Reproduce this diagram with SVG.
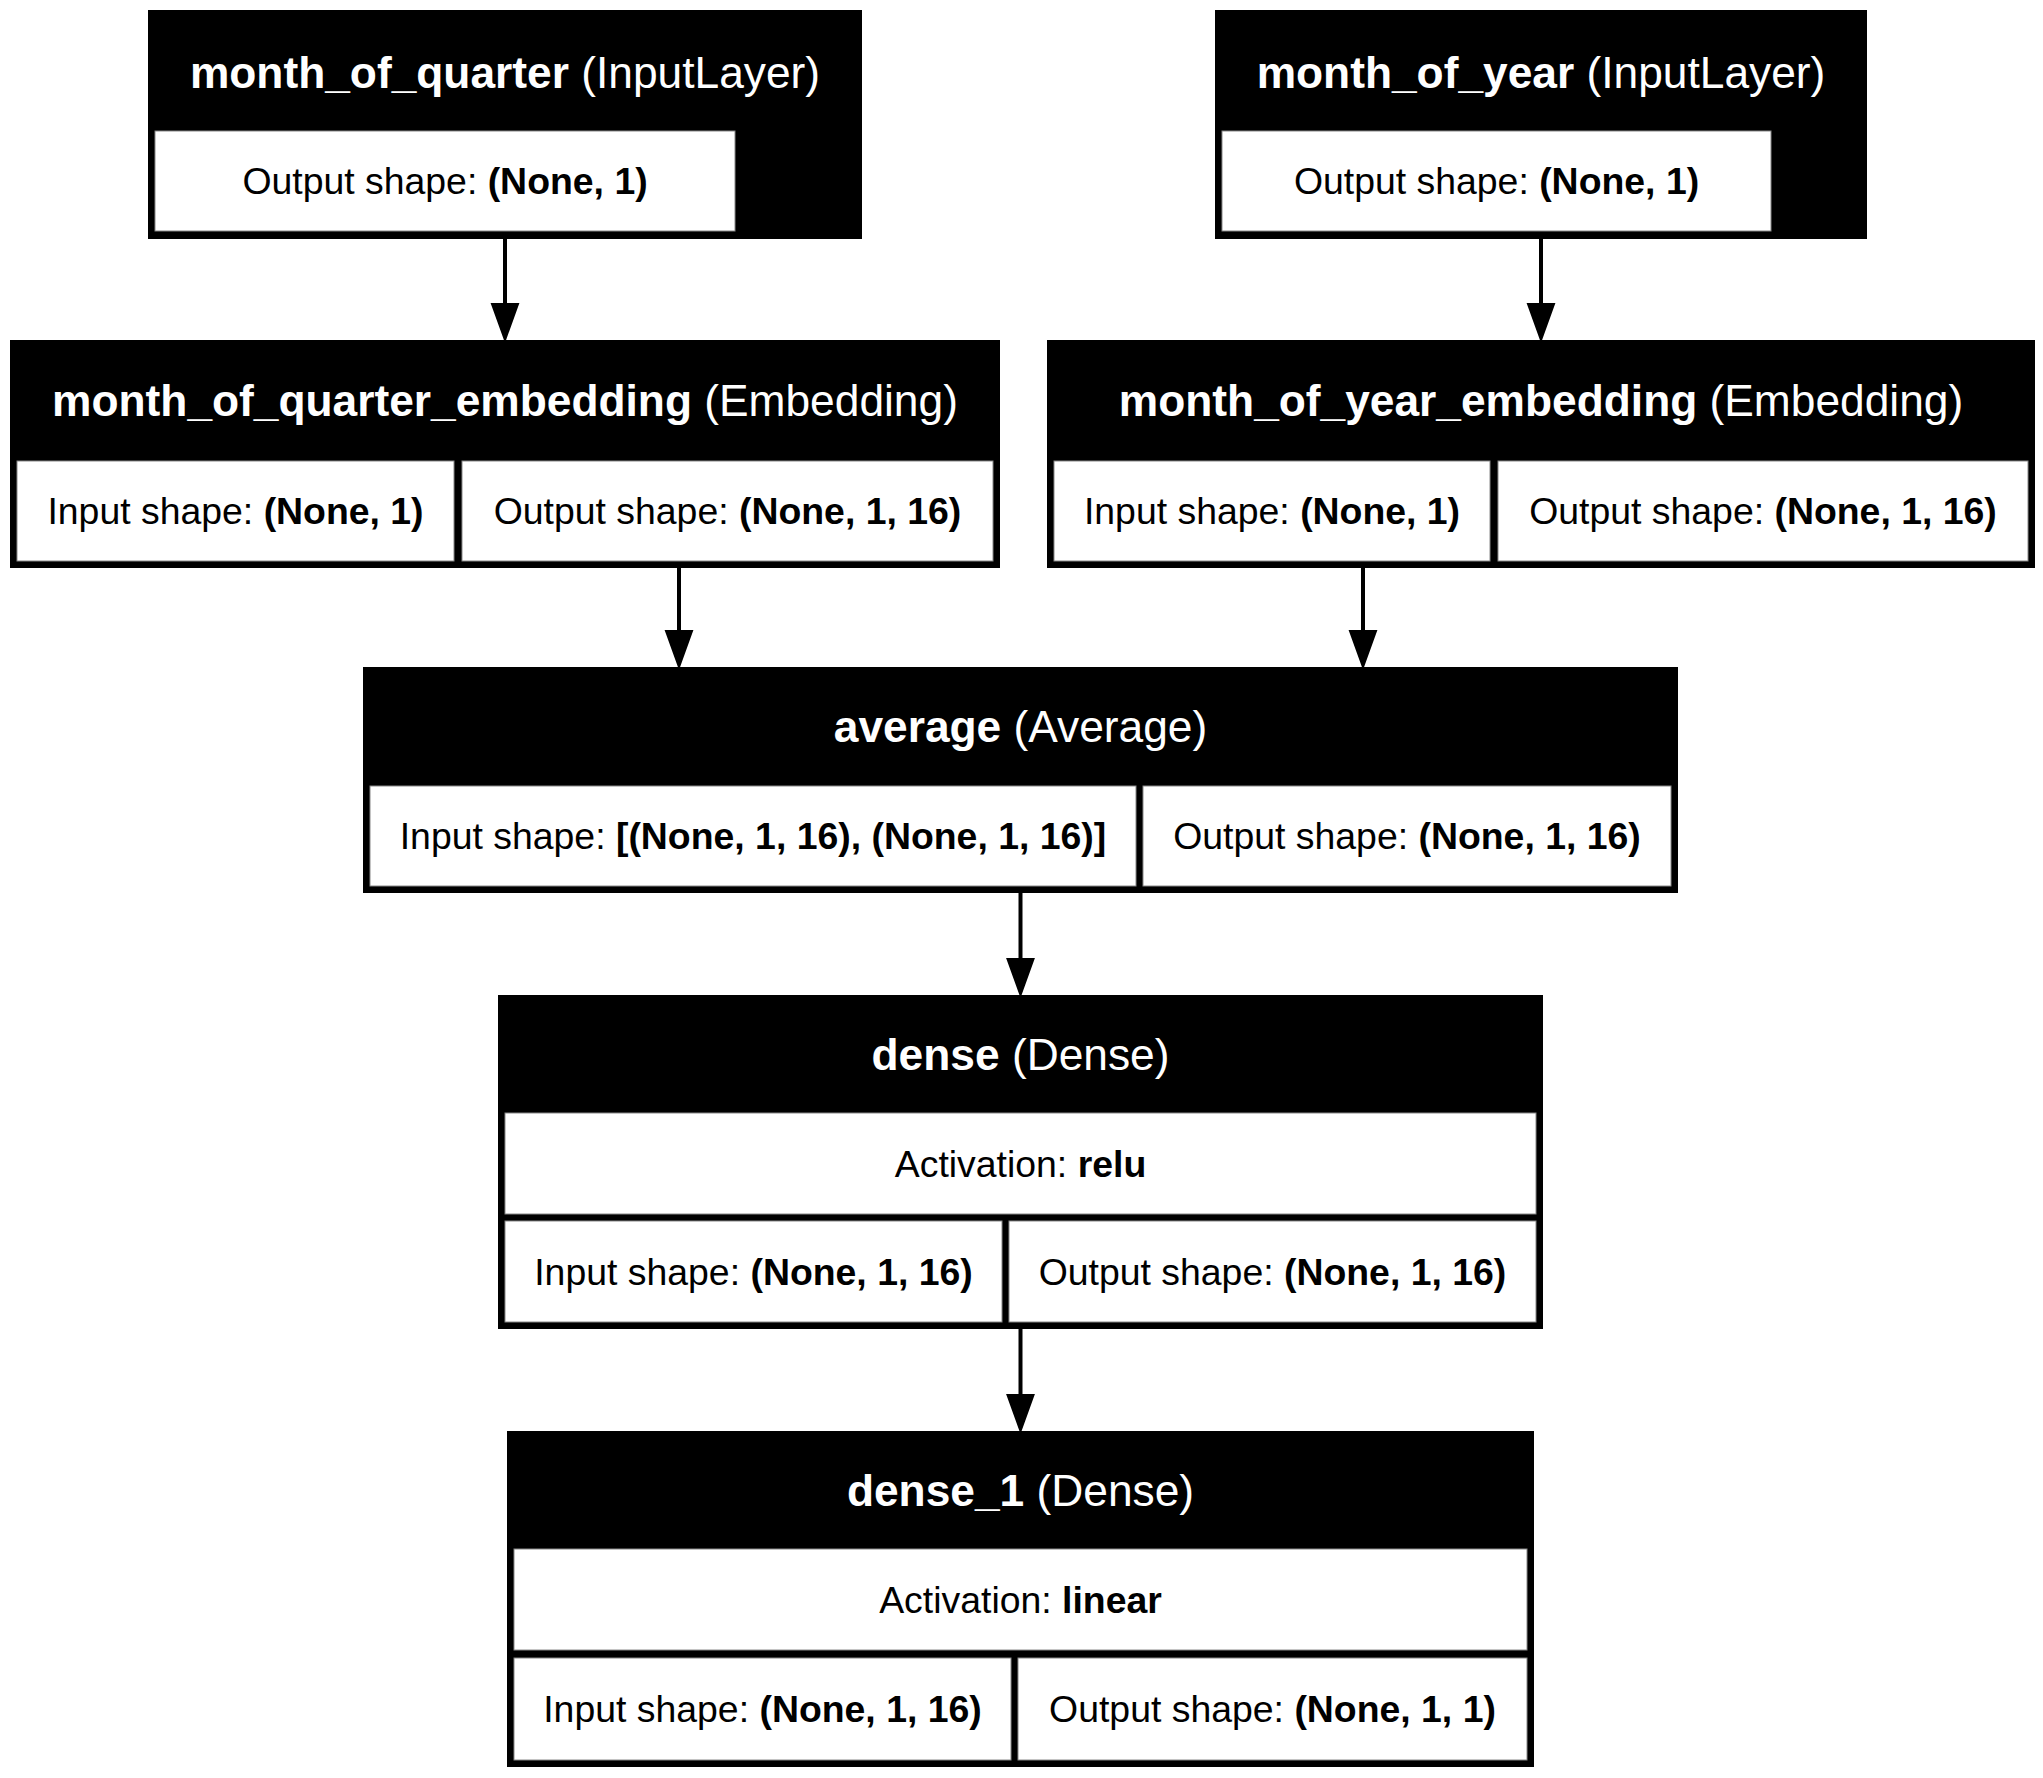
<svg xmlns="http://www.w3.org/2000/svg" width="2043" height="1778" viewBox="0 0 2043 1778">
<style>
text{font-family:"Liberation Sans",Arial,Helvetica,sans-serif;text-anchor:middle}
.frame{fill:#000}
.cell{fill:#fff;stroke:#888;stroke-width:1}
.title{font-size:44.3px;fill:#fff}
.lbl{font-size:37.4px;fill:#000}
.b{font-weight:bold}
.edge{stroke:#000;stroke-width:4;fill:none}
.head{fill:#000;stroke:#000;stroke-width:2}
</style>
<rect width="2043" height="1778" fill="#fff"/>
<g id="connectors">
<line class="edge" x1="505" y1="239" x2="505" y2="304"/>
<polygon class="head" points="492,304 518,304 505,340"/>
<line class="edge" x1="1541" y1="239" x2="1541" y2="304"/>
<polygon class="head" points="1528,304 1554,304 1541,340"/>
<line class="edge" x1="679" y1="568" x2="679" y2="631"/>
<polygon class="head" points="666,631 692,631 679,667"/>
<line class="edge" x1="1363" y1="568" x2="1363" y2="631"/>
<polygon class="head" points="1350,631 1376,631 1363,667"/>
<line class="edge" x1="1020.5" y1="893" x2="1020.5" y2="959"/>
<polygon class="head" points="1007.5,959 1033.5,959 1020.5,995"/>
<line class="edge" x1="1020.5" y1="1329" x2="1020.5" y2="1395"/>
<polygon class="head" points="1007.5,1395 1033.5,1395 1020.5,1431"/>
</g>
<g id="month_of_quarter">
<rect class="frame" x="148" y="10" width="714" height="229"/>
<rect class="cell" x="155" y="131" width="580" height="100"/>
<text class="title" x="505" y="88"><tspan class="b">month_of_quarter</tspan> (InputLayer)</text>
<text class="lbl" x="445" y="194">Output shape: <tspan class="b">(None, 1)</tspan></text>
</g>
<g id="month_of_year">
<rect class="frame" x="1215" y="10" width="652" height="229"/>
<rect class="cell" x="1222" y="131" width="549" height="100"/>
<text class="title" x="1541" y="88"><tspan class="b">month_of_year</tspan> (InputLayer)</text>
<text class="lbl" x="1496.5" y="194">Output shape: <tspan class="b">(None, 1)</tspan></text>
</g>
<g id="month_of_quarter_embedding">
<rect class="frame" x="10" y="340" width="990" height="228"/>
<rect class="cell" x="17" y="461" width="437" height="100"/>
<rect class="cell" x="462" y="461" width="531" height="100"/>
<text class="title" x="505" y="416"><tspan class="b">month_of_quarter_embedding</tspan> (Embedding)</text>
<text class="lbl" x="235.5" y="524">Input shape: <tspan class="b">(None, 1)</tspan></text>
<text class="lbl" x="727.5" y="524">Output shape: <tspan class="b">(None, 1, 16)</tspan></text>
</g>
<g id="month_of_year_embedding">
<rect class="frame" x="1047" y="340" width="988" height="228"/>
<rect class="cell" x="1054" y="461" width="436" height="100"/>
<rect class="cell" x="1498" y="461" width="530" height="100"/>
<text class="title" x="1541" y="416"><tspan class="b">month_of_year_embedding</tspan> (Embedding)</text>
<text class="lbl" x="1272" y="524">Input shape: <tspan class="b">(None, 1)</tspan></text>
<text class="lbl" x="1763" y="524">Output shape: <tspan class="b">(None, 1, 16)</tspan></text>
</g>
<g id="average">
<rect class="frame" x="363" y="667" width="1315" height="226"/>
<rect class="cell" x="370" y="786" width="766" height="100"/>
<rect class="cell" x="1143" y="786" width="528" height="100"/>
<text class="title" x="1020.5" y="742"><tspan class="b">average</tspan> (Average)</text>
<text class="lbl" x="753" y="849">Input shape: <tspan class="b">[(None, 1, 16), (None, 1, 16)]</tspan></text>
<text class="lbl" x="1407" y="849">Output shape: <tspan class="b">(None, 1, 16)</tspan></text>
</g>
<g id="dense">
<rect class="frame" x="498" y="995" width="1045" height="334"/>
<rect class="cell" x="505" y="1113" width="1031" height="101"/>
<rect class="cell" x="505" y="1221" width="497" height="101"/>
<rect class="cell" x="1009" y="1221" width="527" height="101"/>
<text class="title" x="1020.5" y="1070"><tspan class="b">dense</tspan> (Dense)</text>
<text class="lbl" x="1020.5" y="1177">Activation: <tspan class="b">relu</tspan></text>
<text class="lbl" x="753.5" y="1285">Input shape: <tspan class="b">(None, 1, 16)</tspan></text>
<text class="lbl" x="1272.5" y="1285">Output shape: <tspan class="b">(None, 1, 16)</tspan></text>
</g>
<g id="dense_1">
<rect class="frame" x="507" y="1431" width="1027" height="336"/>
<rect class="cell" x="514" y="1549" width="1013" height="101"/>
<rect class="cell" x="514" y="1658" width="497" height="102"/>
<rect class="cell" x="1018" y="1658" width="509" height="102"/>
<text class="title" x="1020.5" y="1506"><tspan class="b">dense_1</tspan> (Dense)</text>
<text class="lbl" x="1020.5" y="1613">Activation: <tspan class="b">linear</tspan></text>
<text class="lbl" x="762.5" y="1722">Input shape: <tspan class="b">(None, 1, 16)</tspan></text>
<text class="lbl" x="1272.5" y="1722">Output shape: <tspan class="b">(None, 1, 1)</tspan></text>
</g>
</svg>
